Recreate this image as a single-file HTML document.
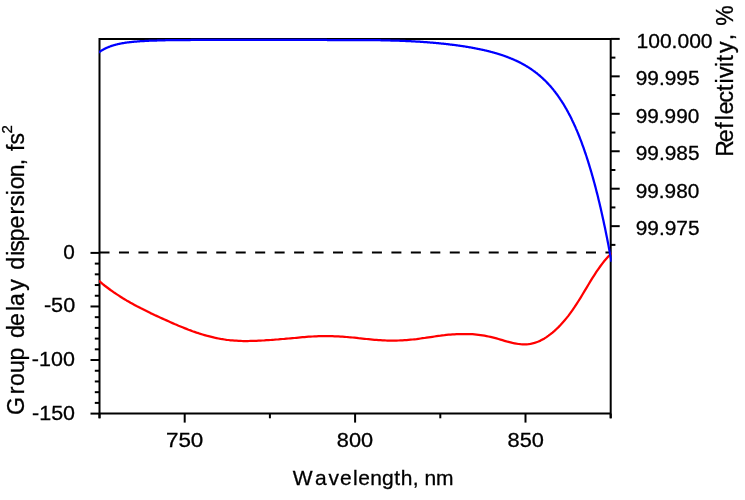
<!DOCTYPE html>
<html lang="en">
<head>
<meta charset="utf-8">
<title>Group delay dispersion and reflectivity</title>
<style>
html,body{margin:0;padding:0;background:#fff;}
body{width:745px;height:500px;overflow:hidden;}
svg{display:block;}
text{font-family:"Liberation Sans","DejaVu Sans",sans-serif;fill:#000;stroke:#000;stroke-width:0.3px;}
</style>
</head>
<body>
<svg width="745" height="500" viewBox="0 0 745 500">
<rect width="745" height="500" fill="#ffffff"/>
<g stroke="#000" fill="none" stroke-linecap="butt">
<path d="M99.5 418.30 L99.5 38.9 L610.7 38.9 L610.7 418.30" stroke-width="2.0" stroke-linejoin="miter"/>
<line x1="99.5" y1="413.6" x2="610.7" y2="413.6" stroke-width="2.0"/>
<line x1="90.50" y1="252.90" x2="99.50" y2="252.90" stroke-width="2.0"/>
<line x1="94.80" y1="263.61" x2="99.50" y2="263.61" stroke-width="2.0"/>
<line x1="94.80" y1="274.33" x2="99.50" y2="274.33" stroke-width="2.0"/>
<line x1="94.80" y1="285.04" x2="99.50" y2="285.04" stroke-width="2.0"/>
<line x1="94.80" y1="295.75" x2="99.50" y2="295.75" stroke-width="2.0"/>
<line x1="90.50" y1="306.47" x2="99.50" y2="306.47" stroke-width="2.0"/>
<line x1="94.80" y1="317.18" x2="99.50" y2="317.18" stroke-width="2.0"/>
<line x1="94.80" y1="327.89" x2="99.50" y2="327.89" stroke-width="2.0"/>
<line x1="94.80" y1="338.61" x2="99.50" y2="338.61" stroke-width="2.0"/>
<line x1="94.80" y1="349.32" x2="99.50" y2="349.32" stroke-width="2.0"/>
<line x1="90.50" y1="360.03" x2="99.50" y2="360.03" stroke-width="2.0"/>
<line x1="94.80" y1="370.75" x2="99.50" y2="370.75" stroke-width="2.0"/>
<line x1="94.80" y1="381.46" x2="99.50" y2="381.46" stroke-width="2.0"/>
<line x1="94.80" y1="392.17" x2="99.50" y2="392.17" stroke-width="2.0"/>
<line x1="94.80" y1="402.89" x2="99.50" y2="402.89" stroke-width="2.0"/>
<line x1="90.50" y1="413.60" x2="99.50" y2="413.60" stroke-width="2.0"/>
<line x1="610.70" y1="38.90" x2="619.70" y2="38.90" stroke-width="2.0"/>
<line x1="610.70" y1="57.62" x2="615.40" y2="57.62" stroke-width="2.0"/>
<line x1="610.70" y1="76.35" x2="619.70" y2="76.35" stroke-width="2.0"/>
<line x1="610.70" y1="95.08" x2="615.40" y2="95.08" stroke-width="2.0"/>
<line x1="610.70" y1="113.80" x2="619.70" y2="113.80" stroke-width="2.0"/>
<line x1="610.70" y1="132.53" x2="615.40" y2="132.53" stroke-width="2.0"/>
<line x1="610.70" y1="151.25" x2="619.70" y2="151.25" stroke-width="2.0"/>
<line x1="610.70" y1="169.98" x2="615.40" y2="169.98" stroke-width="2.0"/>
<line x1="610.70" y1="188.70" x2="619.70" y2="188.70" stroke-width="2.0"/>
<line x1="610.70" y1="207.43" x2="615.40" y2="207.43" stroke-width="2.0"/>
<line x1="610.70" y1="226.15" x2="619.70" y2="226.15" stroke-width="2.0"/>
<line x1="610.70" y1="244.88" x2="615.40" y2="244.88" stroke-width="2.0"/>
<line x1="99.50" y1="413.60" x2="99.50" y2="418.30" stroke-width="2.0"/>
<line x1="184.70" y1="413.60" x2="184.70" y2="422.60" stroke-width="2.0"/>
<line x1="269.90" y1="413.60" x2="269.90" y2="418.30" stroke-width="2.0"/>
<line x1="355.10" y1="413.60" x2="355.10" y2="422.60" stroke-width="2.0"/>
<line x1="440.30" y1="413.60" x2="440.30" y2="418.30" stroke-width="2.0"/>
<line x1="525.50" y1="413.60" x2="525.50" y2="422.60" stroke-width="2.0"/>
<line x1="610.70" y1="413.60" x2="610.70" y2="418.30" stroke-width="2.0"/>
<line x1="99.5" y1="252.4" x2="610.7" y2="252.4" stroke-width="2.0" stroke-dasharray="10 9.46"/>
</g>
<clipPath id="plot"><rect x="99.1" y="36.9" width="512.5" height="376.70000000000005"/></clipPath>
<g fill="none" stroke-width="2.25" stroke-linejoin="round" stroke-linecap="butt" clip-path="url(#plot)">
<path d="M98.5 280.5 L100.5 282.2 L102.5 283.9 L104.5 285.5 L106.5 287.0 L108.5 288.5 L110.5 290.0 L112.5 291.4 L114.5 292.8 L116.5 294.1 L118.5 295.4 L120.5 296.7 L122.5 298.0 L124.5 299.2 L126.5 300.4 L128.5 301.5 L130.5 302.7 L132.5 303.8 L134.5 304.9 L136.5 306.0 L138.5 307.0 L140.5 308.1 L142.5 309.1 L144.5 310.1 L146.5 311.1 L148.5 312.1 L150.5 313.1 L152.5 314.0 L154.5 315.0 L156.5 315.9 L158.5 316.8 L160.5 317.7 L162.5 318.6 L164.5 319.5 L166.5 320.4 L168.5 321.3 L170.5 322.2 L172.5 323.1 L174.5 324.0 L176.5 324.8 L178.5 325.7 L180.5 326.5 L182.5 327.3 L184.5 328.1 L186.5 328.9 L188.5 329.7 L190.5 330.4 L192.5 331.2 L194.5 331.9 L196.5 332.6 L198.5 333.2 L200.5 333.9 L202.5 334.5 L204.5 335.1 L206.5 335.7 L208.5 336.2 L210.5 336.7 L212.5 337.2 L214.5 337.7 L216.5 338.1 L218.5 338.5 L220.5 338.9 L222.5 339.2 L224.5 339.5 L226.5 339.8 L228.5 340.0 L230.5 340.3 L232.5 340.4 L234.5 340.6 L236.5 340.7 L238.5 340.8 L240.5 340.9 L242.5 341.0 L244.5 341.0 L246.5 341.0 L248.5 341.0 L250.5 340.9 L252.5 340.9 L254.5 340.8 L256.5 340.8 L258.5 340.7 L260.5 340.6 L262.5 340.5 L264.5 340.4 L266.5 340.2 L268.5 340.1 L270.5 340.0 L272.5 339.8 L274.5 339.7 L276.5 339.5 L278.5 339.4 L280.5 339.2 L282.5 339.0 L284.5 338.9 L286.5 338.7 L288.5 338.5 L290.5 338.3 L292.5 338.1 L294.5 338.0 L296.5 337.8 L298.5 337.6 L300.5 337.4 L302.5 337.2 L304.5 337.1 L306.5 336.9 L308.5 336.7 L310.5 336.6 L312.5 336.5 L314.5 336.4 L316.5 336.3 L318.5 336.2 L320.5 336.1 L322.5 336.1 L324.5 336.1 L326.5 336.1 L328.5 336.1 L330.5 336.1 L332.5 336.2 L334.5 336.3 L336.5 336.3 L338.5 336.4 L340.5 336.6 L342.5 336.7 L344.5 336.8 L346.5 337.0 L348.5 337.2 L350.5 337.3 L352.5 337.5 L354.5 337.7 L356.5 337.9 L358.5 338.2 L360.5 338.4 L362.5 338.6 L364.5 338.8 L366.5 339.0 L368.5 339.2 L370.5 339.4 L372.5 339.6 L374.5 339.8 L376.5 339.9 L378.5 340.1 L380.5 340.2 L382.5 340.3 L384.5 340.4 L386.5 340.5 L388.5 340.5 L390.5 340.6 L392.5 340.6 L394.5 340.6 L396.5 340.6 L398.5 340.5 L400.5 340.4 L402.5 340.3 L404.5 340.2 L406.5 340.1 L408.5 339.9 L410.5 339.7 L412.5 339.5 L414.5 339.3 L416.5 339.1 L418.5 338.8 L420.5 338.5 L422.5 338.2 L424.5 338.0 L426.5 337.7 L428.5 337.4 L430.5 337.1 L432.5 336.8 L434.5 336.5 L436.5 336.2 L438.5 335.9 L440.5 335.7 L442.5 335.4 L444.5 335.2 L446.5 334.9 L448.5 334.7 L450.5 334.6 L452.5 334.4 L454.5 334.3 L456.5 334.2 L458.5 334.1 L460.5 334.0 L462.5 334.0 L464.5 334.0 L466.5 334.0 L468.5 334.0 L470.5 334.1 L472.5 334.2 L474.5 334.4 L476.5 334.6 L478.5 334.8 L480.5 335.1 L482.5 335.4 L484.5 335.7 L486.5 336.1 L488.5 336.5 L490.5 336.9 L492.5 337.4 L494.5 337.9 L496.5 338.4 L498.5 339.0 L500.5 339.6 L502.5 340.2 L504.5 340.8 L506.5 341.4 L508.5 341.9 L510.5 342.4 L512.5 342.9 L514.5 343.3 L516.5 343.7 L518.5 344.0 L520.5 344.2 L522.5 344.3 L524.5 344.3 L526.5 344.3 L528.5 344.1 L530.5 343.8 L532.5 343.4 L534.5 342.9 L536.5 342.2 L538.5 341.5 L540.5 340.6 L542.5 339.5 L544.5 338.4 L546.5 337.1 L548.5 335.7 L550.5 334.2 L552.5 332.6 L554.5 330.9 L556.5 329.0 L558.5 327.1 L560.5 325.0 L562.5 322.8 L564.5 320.5 L566.5 318.1 L568.5 315.6 L570.5 312.9 L572.5 310.1 L574.5 307.2 L576.5 304.1 L578.5 301.0 L580.5 297.8 L582.5 294.5 L584.5 291.1 L586.5 287.8 L588.5 284.5 L590.5 281.2 L592.5 277.9 L594.5 274.8 L596.5 271.7 L598.5 268.8 L600.5 266.0 L602.5 263.4 L604.5 260.8 L606.5 258.5 L608.5 256.2 L610.5 254.2 L611.7 253.0" stroke="#ff0000"/>
<path d="M98.5 52.6 L99.0 52.3 L99.5 51.9 L100.0 51.5 L100.5 51.2 L101.0 50.9 L101.5 50.6 L102.0 50.3 L102.5 50.0 L103.0 49.7 L103.5 49.4 L104.0 49.1 L104.5 48.9 L105.0 48.6 L105.5 48.4 L106.0 48.1 L106.5 47.9 L107.0 47.7 L107.5 47.5 L108.0 47.3 L108.5 47.1 L109.0 46.9 L109.5 46.7 L110.0 46.5 L110.5 46.3 L111.0 46.1 L111.5 45.9 L112.0 45.8 L112.5 45.6 L113.0 45.5 L113.5 45.3 L114.0 45.2 L114.5 45.0 L115.0 44.9 L115.5 44.8 L116.0 44.6 L116.5 44.5 L117.0 44.4 L117.5 44.2 L118.0 44.1 L118.5 44.0 L119.0 43.9 L119.5 43.8 L120.0 43.7 L120.5 43.6 L121.0 43.5 L121.5 43.4 L122.0 43.3 L122.5 43.2 L123.0 43.1 L123.5 43.0 L124.0 43.0 L124.5 42.9 L125.0 42.8 L125.5 42.7 L126.0 42.7 L126.5 42.6 L127.0 42.5 L127.5 42.4 L128.0 42.4 L128.5 42.3 L129.0 42.3 L129.5 42.2 L130.0 42.1 L130.5 42.1 L131.0 42.0 L131.5 42.0 L132.0 41.9 L132.5 41.9 L133.0 41.8 L133.5 41.8 L134.0 41.7 L134.5 41.7 L135.0 41.6 L135.5 41.6 L136.0 41.5 L136.5 41.5 L137.0 41.5 L137.5 41.4 L138.0 41.4 L138.5 41.3 L139.0 41.3 L139.5 41.3 L140.0 41.2 L140.5 41.2 L141.0 41.2 L141.5 41.1 L142.0 41.1 L142.5 41.1 L143.0 41.0 L143.5 41.0 L144.0 41.0 L144.5 41.0 L145.0 40.9 L145.5 40.9 L146.0 40.9 L146.5 40.9 L147.0 40.8 L147.5 40.8 L148.0 40.8 L148.5 40.8 L149.0 40.7 L149.5 40.7 L150.0 40.7 L150.5 40.7 L151.0 40.7 L151.5 40.6 L152.0 40.6 L152.5 40.6 L153.0 40.6 L153.5 40.6 L154.0 40.5 L154.5 40.5 L155.0 40.5 L155.5 40.5 L156.0 40.5 L156.5 40.5 L157.0 40.5 L157.5 40.4 L158.0 40.4 L158.5 40.4 L159.0 40.4 L159.5 40.4 L160.0 40.4 L160.5 40.4 L161.0 40.3 L161.5 40.3 L162.0 40.3 L162.5 40.3 L163.0 40.3 L163.5 40.3 L164.0 40.3 L164.5 40.3 L165.0 40.3 L165.5 40.2 L166.0 40.2 L166.5 40.2 L167.0 40.2 L167.5 40.2 L168.0 40.2 L168.5 40.2 L169.0 40.2 L169.5 40.2 L170.0 40.2 L170.5 40.2 L171.0 40.2 L171.5 40.1 L172.0 40.1 L172.5 40.1 L173.0 40.1 L173.5 40.1 L174.0 40.1 L174.5 40.1 L175.0 40.1 L175.5 40.1 L176.0 40.1 L176.5 40.1 L177.0 40.1 L177.5 40.1 L178.0 40.1 L178.5 40.1 L179.0 40.1 L179.5 40.0 L180.0 40.0 L180.5 40.0 L181.0 40.0 L181.5 40.0 L182.0 40.0 L182.5 40.0 L183.0 40.0 L183.5 40.0 L184.0 40.0 L184.5 40.0 L185.0 40.0 L185.5 40.0 L186.0 40.0 L186.5 40.0 L187.0 40.0 L187.5 40.0 L188.0 40.0 L188.5 40.0 L189.0 40.0 L189.5 40.0 L190.0 40.0 L190.5 40.0 L191.0 39.9 L191.5 39.9 L192.0 39.9 L192.5 39.9 L193.0 39.9 L193.5 39.9 L194.0 39.9 L194.5 39.9 L195.0 39.9 L195.5 39.9 L196.0 39.9 L196.5 39.9 L197.0 39.9 L197.5 39.9 L198.0 39.9 L198.5 39.9 L199.0 39.9 L199.5 39.9 L200.0 39.9 L200.5 39.9 L201.0 39.9 L201.5 39.9 L202.0 39.9 L202.5 39.9 L203.0 39.9 L203.5 39.9 L204.0 39.9 L204.5 39.9 L205.0 39.9 L205.5 39.9 L206.0 39.9 L206.5 39.9 L207.0 39.9 L207.5 39.9 L208.0 39.9 L208.5 39.9 L209.0 39.9 L209.5 39.9 L210.0 39.9 L210.5 39.9 L211.0 39.9 L211.5 39.9 L212.0 39.9 L212.5 39.9 L213.0 39.9 L213.5 39.9 L214.0 39.8 L214.5 39.8 L215.0 39.8 L215.5 39.8 L216.0 39.8 L216.5 39.8 L217.0 39.8 L217.5 39.8 L218.0 39.8 L218.5 39.8 L219.0 39.8 L219.5 39.8 L220.0 39.8 L220.5 39.8 L221.0 39.8 L221.5 39.8 L222.0 39.8 L222.5 39.8 L223.0 39.8 L223.5 39.8 L224.0 39.8 L224.5 39.8 L225.0 39.8 L225.5 39.8 L226.0 39.8 L226.5 39.8 L227.0 39.8 L227.5 39.8 L228.0 39.8 L228.5 39.8 L229.0 39.8 L229.5 39.8 L230.0 39.8 L230.5 39.8 L231.0 39.8 L231.5 39.8 L232.0 39.8 L232.5 39.8 L233.0 39.8 L233.5 39.8 L234.0 39.8 L234.5 39.8 L235.0 39.8 L235.5 39.8 L236.0 39.8 L236.5 39.8 L237.0 39.8 L237.5 39.8 L238.0 39.8 L238.5 39.8 L239.0 39.8 L239.5 39.8 L240.0 39.8 L240.5 39.8 L241.0 39.8 L241.5 39.8 L242.0 39.8 L242.5 39.8 L243.0 39.8 L243.5 39.8 L244.0 39.8 L244.5 39.8 L245.0 39.8 L245.5 39.8 L246.0 39.8 L246.5 39.8 L247.0 39.8 L247.5 39.8 L248.0 39.8 L248.5 39.8 L249.0 39.8 L249.5 39.8 L250.0 39.8 L250.5 39.8 L251.0 39.8 L251.5 39.8 L252.0 39.8 L252.5 39.8 L253.0 39.8 L253.5 39.8 L254.0 39.8 L254.5 39.8 L255.0 39.8 L255.5 39.8 L256.0 39.8 L256.5 39.8 L257.0 39.8 L257.5 39.8 L258.0 39.8 L258.5 39.8 L259.0 39.8 L259.5 39.8 L260.0 39.8 L260.5 39.8 L261.0 39.8 L261.5 39.8 L262.0 39.8 L262.5 39.8 L263.0 39.8 L263.5 39.8 L264.0 39.8 L264.5 39.8 L265.0 39.8 L265.5 39.8 L266.0 39.8 L266.5 39.8 L267.0 39.8 L267.5 39.8 L268.0 39.8 L268.5 39.8 L269.0 39.8 L269.5 39.8 L270.0 39.8 L270.5 39.8 L271.0 39.8 L271.5 39.8 L272.0 39.8 L272.5 39.8 L273.0 39.8 L273.5 39.8 L274.0 39.8 L274.5 39.8 L275.0 39.8 L275.5 39.8 L276.0 39.8 L276.5 39.8 L277.0 39.8 L277.5 39.8 L278.0 39.8 L278.5 39.8 L279.0 39.8 L279.5 39.8 L280.0 39.8 L280.5 39.8 L281.0 39.8 L281.5 39.8 L282.0 39.8 L282.5 39.8 L283.0 39.8 L283.5 39.8 L284.0 39.8 L284.5 39.8 L285.0 39.8 L285.5 39.8 L286.0 39.8 L286.5 39.8 L287.0 39.8 L287.5 39.8 L288.0 39.8 L288.5 39.8 L289.0 39.8 L289.5 39.8 L290.0 39.8 L290.5 39.8 L291.0 39.8 L291.5 39.8 L292.0 39.8 L292.5 39.8 L293.0 39.8 L293.5 39.8 L294.0 39.8 L294.5 39.9 L295.0 39.9 L295.5 39.9 L296.0 39.9 L296.5 39.9 L297.0 39.9 L297.5 39.9 L298.0 39.9 L298.5 39.9 L299.0 39.9 L299.5 39.9 L300.0 39.9 L300.5 39.9 L301.0 39.9 L301.5 39.9 L302.0 39.9 L302.5 39.9 L303.0 39.9 L303.5 39.9 L304.0 39.9 L304.5 39.9 L305.0 39.9 L305.5 39.9 L306.0 39.9 L306.5 39.9 L307.0 39.9 L307.5 39.9 L308.0 39.9 L308.5 39.9 L309.0 39.9 L309.5 39.9 L310.0 39.9 L310.5 39.9 L311.0 39.9 L311.5 39.9 L312.0 39.9 L312.5 39.9 L313.0 39.9 L313.5 39.9 L314.0 39.9 L314.5 39.9 L315.0 39.9 L315.5 39.9 L316.0 39.9 L316.5 39.9 L317.0 39.9 L317.5 39.9 L318.0 39.9 L318.5 39.9 L319.0 39.9 L319.5 39.9 L320.0 39.9 L320.5 39.9 L321.0 39.9 L321.5 39.9 L322.0 39.9 L322.5 39.9 L323.0 39.9 L323.5 39.9 L324.0 39.9 L324.5 39.9 L325.0 39.9 L325.5 39.9 L326.0 39.9 L326.5 39.9 L327.0 40.0 L327.5 40.0 L328.0 40.0 L328.5 40.0 L329.0 40.0 L329.5 40.0 L330.0 40.0 L330.5 40.0 L331.0 40.0 L331.5 40.0 L332.0 40.0 L332.5 40.0 L333.0 40.0 L333.5 40.0 L334.0 40.0 L334.5 40.0 L335.0 40.0 L335.5 40.0 L336.0 40.0 L336.5 40.0 L337.0 40.0 L337.5 40.0 L338.0 40.0 L338.5 40.0 L339.0 40.0 L339.5 40.0 L340.0 40.0 L340.5 40.0 L341.0 40.0 L341.5 40.0 L342.0 40.0 L342.5 40.0 L343.0 40.0 L343.5 40.0 L344.0 40.0 L344.5 40.0 L345.0 40.0 L345.5 40.0 L346.0 40.0 L346.5 40.0 L347.0 40.0 L347.5 40.0 L348.0 40.0 L348.5 40.0 L349.0 40.0 L349.5 40.0 L350.0 40.0 L350.5 40.0 L351.0 40.0 L351.5 40.0 L352.0 40.0 L352.5 40.0 L353.0 40.0 L353.5 40.0 L354.0 40.0 L354.5 40.0 L355.0 40.0 L355.5 40.0 L356.0 40.0 L356.5 40.0 L357.0 40.0 L357.5 40.0 L358.0 40.0 L358.5 40.0 L359.0 40.0 L359.5 40.0 L360.0 40.0 L360.5 40.0 L361.0 40.0 L361.5 40.0 L362.0 40.0 L362.5 40.0 L363.0 40.0 L363.5 40.1 L364.0 40.1 L364.5 40.1 L365.0 40.1 L365.5 40.1 L366.0 40.1 L366.5 40.1 L367.0 40.1 L367.5 40.1 L368.0 40.1 L368.5 40.1 L369.0 40.1 L369.5 40.1 L370.0 40.1 L370.5 40.1 L371.0 40.1 L371.5 40.1 L372.0 40.1 L372.5 40.1 L373.0 40.1 L373.5 40.1 L374.0 40.2 L374.5 40.2 L375.0 40.2 L375.5 40.2 L376.0 40.2 L376.5 40.2 L377.0 40.2 L377.5 40.2 L378.0 40.2 L378.5 40.2 L379.0 40.2 L379.5 40.2 L380.0 40.2 L380.5 40.2 L381.0 40.3 L381.5 40.3 L382.0 40.3 L382.5 40.3 L383.0 40.3 L383.5 40.3 L384.0 40.3 L384.5 40.3 L385.0 40.3 L385.5 40.3 L386.0 40.4 L386.5 40.4 L387.0 40.4 L387.5 40.4 L388.0 40.4 L388.5 40.4 L389.0 40.4 L389.5 40.4 L390.0 40.4 L390.5 40.5 L391.0 40.5 L391.5 40.5 L392.0 40.5 L392.5 40.5 L393.0 40.5 L393.5 40.5 L394.0 40.6 L394.5 40.6 L395.0 40.6 L395.5 40.6 L396.0 40.6 L396.5 40.6 L397.0 40.6 L397.5 40.7 L398.0 40.7 L398.5 40.7 L399.0 40.7 L399.5 40.7 L400.0 40.8 L400.5 40.8 L401.0 40.8 L401.5 40.8 L402.0 40.8 L402.5 40.8 L403.0 40.9 L403.5 40.9 L404.0 40.9 L404.5 40.9 L405.0 40.9 L405.5 41.0 L406.0 41.0 L406.5 41.0 L407.0 41.0 L407.5 41.1 L408.0 41.1 L408.5 41.1 L409.0 41.1 L409.5 41.2 L410.0 41.2 L410.5 41.2 L411.0 41.2 L411.5 41.3 L412.0 41.3 L412.5 41.3 L413.0 41.3 L413.5 41.4 L414.0 41.4 L414.5 41.4 L415.0 41.4 L415.5 41.5 L416.0 41.5 L416.5 41.5 L417.0 41.6 L417.5 41.6 L418.0 41.6 L418.5 41.6 L419.0 41.7 L419.5 41.7 L420.0 41.7 L420.5 41.8 L421.0 41.8 L421.5 41.8 L422.0 41.9 L422.5 41.9 L423.0 41.9 L423.5 42.0 L424.0 42.0 L424.5 42.0 L425.0 42.1 L425.5 42.1 L426.0 42.2 L426.5 42.2 L427.0 42.2 L427.5 42.3 L428.0 42.3 L428.5 42.3 L429.0 42.4 L429.5 42.4 L430.0 42.5 L430.5 42.5 L431.0 42.5 L431.5 42.6 L432.0 42.6 L432.5 42.7 L433.0 42.7 L433.5 42.8 L434.0 42.8 L434.5 42.8 L435.0 42.9 L435.5 42.9 L436.0 43.0 L436.5 43.0 L437.0 43.1 L437.5 43.1 L438.0 43.2 L438.5 43.2 L439.0 43.3 L439.5 43.3 L440.0 43.4 L440.5 43.4 L441.0 43.5 L441.5 43.5 L442.0 43.6 L442.5 43.6 L443.0 43.7 L443.5 43.7 L444.0 43.8 L444.5 43.8 L445.0 43.9 L445.5 43.9 L446.0 44.0 L446.5 44.0 L447.0 44.1 L447.5 44.2 L448.0 44.2 L448.5 44.3 L449.0 44.3 L449.5 44.4 L450.0 44.5 L450.5 44.5 L451.0 44.6 L451.5 44.6 L452.0 44.7 L452.5 44.8 L453.0 44.8 L453.5 44.9 L454.0 44.9 L454.5 45.0 L455.0 45.1 L455.5 45.1 L456.0 45.2 L456.5 45.3 L457.0 45.3 L457.5 45.4 L458.0 45.5 L458.5 45.6 L459.0 45.6 L459.5 45.7 L460.0 45.8 L460.5 45.8 L461.0 45.9 L461.5 46.0 L462.0 46.1 L462.5 46.1 L463.0 46.2 L463.5 46.3 L464.0 46.4 L464.5 46.4 L465.0 46.5 L465.5 46.6 L466.0 46.7 L466.5 46.8 L467.0 46.8 L467.5 46.9 L468.0 47.0 L468.5 47.1 L469.0 47.2 L469.5 47.3 L470.0 47.4 L470.5 47.4 L471.0 47.5 L471.5 47.6 L472.0 47.7 L472.5 47.8 L473.0 47.9 L473.5 48.0 L474.0 48.1 L474.5 48.2 L475.0 48.3 L475.5 48.4 L476.0 48.5 L476.5 48.6 L477.0 48.7 L477.5 48.8 L478.0 48.9 L478.5 49.0 L479.0 49.1 L479.5 49.2 L480.0 49.3 L480.5 49.4 L481.0 49.5 L481.5 49.6 L482.0 49.7 L482.5 49.8 L483.0 49.9 L483.5 50.0 L484.0 50.1 L484.5 50.3 L485.0 50.4 L485.5 50.5 L486.0 50.6 L486.5 50.7 L487.0 50.8 L487.5 51.0 L488.0 51.1 L488.5 51.2 L489.0 51.3 L489.5 51.5 L490.0 51.6 L490.5 51.7 L491.0 51.9 L491.5 52.0 L492.0 52.1 L492.5 52.3 L493.0 52.4 L493.5 52.5 L494.0 52.7 L494.5 52.8 L495.0 53.0 L495.5 53.1 L496.0 53.2 L496.5 53.4 L497.0 53.5 L497.5 53.7 L498.0 53.8 L498.5 54.0 L499.0 54.2 L499.5 54.3 L500.0 54.5 L500.5 54.6 L501.0 54.8 L501.5 55.0 L502.0 55.1 L502.5 55.3 L503.0 55.5 L503.5 55.6 L504.0 55.8 L504.5 56.0 L505.0 56.2 L505.5 56.3 L506.0 56.5 L506.5 56.7 L507.0 56.9 L507.5 57.1 L508.0 57.3 L508.5 57.5 L509.0 57.7 L509.5 57.9 L510.0 58.1 L510.5 58.3 L511.0 58.5 L511.5 58.7 L512.0 58.9 L512.5 59.1 L513.0 59.3 L513.5 59.5 L514.0 59.7 L514.5 60.0 L515.0 60.2 L515.5 60.4 L516.0 60.6 L516.5 60.9 L517.0 61.1 L517.5 61.3 L518.0 61.6 L518.5 61.8 L519.0 62.1 L519.5 62.3 L520.0 62.6 L520.5 62.8 L521.0 63.1 L521.5 63.4 L522.0 63.6 L522.5 63.9 L523.0 64.2 L523.5 64.4 L524.0 64.7 L524.5 65.0 L525.0 65.3 L525.5 65.6 L526.0 65.9 L526.5 66.2 L527.0 66.5 L527.5 66.8 L528.0 67.1 L528.5 67.4 L529.0 67.7 L529.5 68.0 L530.0 68.4 L530.5 68.7 L531.0 69.0 L531.5 69.4 L532.0 69.7 L532.5 70.1 L533.0 70.4 L533.5 70.8 L534.0 71.2 L534.5 71.5 L535.0 71.9 L535.5 72.3 L536.0 72.7 L536.5 73.0 L537.0 73.4 L537.5 73.8 L538.0 74.3 L538.5 74.7 L539.0 75.1 L539.5 75.5 L540.0 75.9 L540.5 76.4 L541.0 76.8 L541.5 77.2 L542.0 77.7 L542.5 78.2 L543.0 78.6 L543.5 79.1 L544.0 79.6 L544.5 80.0 L545.0 80.5 L545.5 81.0 L546.0 81.5 L546.5 82.0 L547.0 82.6 L547.5 83.1 L548.0 83.6 L548.5 84.1 L549.0 84.7 L549.5 85.2 L550.0 85.8 L550.5 86.4 L551.0 86.9 L551.5 87.5 L552.0 88.1 L552.5 88.7 L553.0 89.3 L553.5 89.9 L554.0 90.6 L554.5 91.2 L555.0 91.8 L555.5 92.5 L556.0 93.2 L556.5 93.8 L557.0 94.5 L557.5 95.2 L558.0 95.9 L558.5 96.6 L559.0 97.3 L559.5 98.0 L560.0 98.8 L560.5 99.5 L561.0 100.3 L561.5 101.0 L562.0 101.8 L562.5 102.6 L563.0 103.4 L563.5 104.2 L564.0 105.0 L564.5 105.9 L565.0 106.7 L565.5 107.6 L566.0 108.4 L566.5 109.3 L567.0 110.2 L567.5 111.1 L568.0 112.0 L568.5 113.0 L569.0 113.9 L569.5 114.9 L570.0 115.8 L570.5 116.8 L571.0 117.8 L571.5 118.8 L572.0 119.9 L572.5 120.9 L573.0 122.0 L573.5 123.0 L574.0 124.1 L574.5 125.2 L575.0 126.3 L575.5 127.4 L576.0 128.6 L576.5 129.7 L577.0 130.9 L577.5 132.1 L578.0 133.3 L578.5 134.5 L579.0 135.8 L579.5 137.0 L580.0 138.3 L580.5 139.6 L581.0 140.9 L581.5 142.2 L582.0 143.6 L582.5 145.0 L583.0 146.3 L583.5 147.7 L584.0 149.2 L584.5 150.6 L585.0 152.1 L585.5 153.5 L586.0 155.0 L586.5 156.5 L587.0 158.1 L587.5 159.6 L588.0 161.2 L588.5 162.8 L589.0 164.4 L589.5 166.1 L590.0 167.8 L590.5 169.4 L591.0 171.1 L591.5 172.8 L592.0 174.6 L592.5 176.3 L593.0 178.1 L593.5 179.9 L594.0 181.7 L594.5 183.5 L595.0 185.4 L595.5 187.3 L596.0 189.2 L596.5 191.2 L597.0 193.1 L597.5 195.1 L598.0 197.1 L598.5 199.2 L599.0 201.2 L599.5 203.3 L600.0 205.4 L600.5 207.6 L601.0 209.8 L601.5 212.0 L602.0 214.2 L602.5 216.4 L603.0 218.7 L603.5 221.0 L604.0 223.4 L604.5 225.7 L605.0 228.1 L605.5 230.5 L606.0 233.0 L606.5 235.4 L607.0 237.9 L607.5 240.5 L608.0 243.0 L608.5 245.6 L609.0 248.3 L609.5 250.9 L610.0 253.6 L610.5 256.3 L611.0 259.1 L611.5 261.8" stroke="#0000ff"/>
</g>
<g>
<text x="165.94" y="446.5" font-size="20.3" textLength="37.41" lengthAdjust="spacingAndGlyphs">750</text>
<text x="336.87" y="446.5" font-size="20.3" textLength="36.30" lengthAdjust="spacingAndGlyphs">800</text>
<text x="507.62" y="446.5" font-size="20.3" textLength="36.36" lengthAdjust="spacingAndGlyphs">850</text>
<text x="63.25" y="258.9" font-size="20.3" textLength="11.55" lengthAdjust="spacingAndGlyphs">0</text>
<text x="43.91" y="312.4" font-size="20.3" textLength="31.28" lengthAdjust="spacingAndGlyphs">-50</text>
<text x="31.86" y="366.2" font-size="20.3" textLength="43.03" lengthAdjust="spacingAndGlyphs">-100</text>
<text x="32.09" y="420.0" font-size="20.3" textLength="42.94" lengthAdjust="spacingAndGlyphs">-150</text>
<text x="636.49" y="47.9" font-size="20.3" textLength="76.10" lengthAdjust="spacingAndGlyphs">100.000</text>
<text x="635.69" y="85.36" font-size="20.3" textLength="63.81" lengthAdjust="spacingAndGlyphs">99.995</text>
<text x="635.70" y="122.82" font-size="20.3" textLength="63.61" lengthAdjust="spacingAndGlyphs">99.990</text>
<text x="635.69" y="160.28" font-size="20.3" textLength="63.81" lengthAdjust="spacingAndGlyphs">99.985</text>
<text x="635.70" y="197.74" font-size="20.3" textLength="63.61" lengthAdjust="spacingAndGlyphs">99.980</text>
<text x="635.69" y="235.2" font-size="20.3" textLength="63.81" lengthAdjust="spacingAndGlyphs">99.975</text>
<text y="485.3" font-size="21" x="292.7 315.0 328.4 340.1 352.9 358.2 370.2 382.0 394.3 400.8 412.7 418.6 424.6 436.1">Wavelength, nm</text>
<text transform="translate(24.3 0) rotate(-90)" font-size="23" x="-415.1 -394.3 -386.0 -373.1 -360.4 -347.6 -337.9 -326.1 -311.0 -306.0 -290.8 -279.3 -269.8 -255.8 -251.7 -241.2 -228.5 -214.5 -206.4 -195.3 -189.3 -177.2 -165.2 -158.8 -151.1 -144.6">Group delay dispersion, fs</text>
<text transform="translate(12.1 0) rotate(-90)" font-size="15" x="-133.5">2</text>
<text transform="translate(733.1 0) rotate(-90)" font-size="23" x="-156.8 -142.2 -128.8 -120.2 -114.3 -102.5 -91.0 -83.6 -78.0 -66.9 -61.5 -53.1 -40.2 -33.8 -25.8">Reflectivity, %</text>
</g>
</svg>
</body>
</html>
